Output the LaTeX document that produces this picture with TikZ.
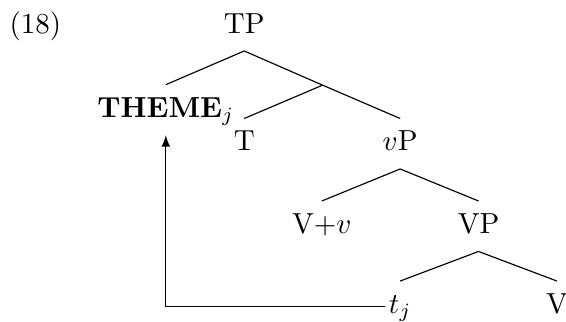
\documentclass[tikz,border=0pt]{standalone}
\usetikzlibrary{positioning}
\begin{document}
\begin{tikzpicture}[node distance=1cm, every node/.style={inner xsep=1pt, inner ysep=3pt, text height=8pt, text depth=3pt}, >=latex]
\useasboundingbox (0,0) rectangle (6.86,-3.90);
\node (TP) [anchor=base] at (2.96,-0.40) {TP};
\node (ex) [left of=TP, node distance=2.53cm] {(18)};
\node (theme) [below of=TP, xshift=-0.95cm, yshift=-0.02cm] {\textbf{THEME}$_j$};
\coordinate [below of=TP, node distance=0.72cm, xshift=0.95cm] (Tbar);
\node (T) [below of=TP, node distance=1.43cm] {T};
\node (vP) [right of=T, node distance=1.89cm] {$v$P};
\node (Vv) [below of=vP, xshift=-0.95cm] {V+$v$};
\node (VP) [below of=vP, xshift=0.95cm] {VP};
\node (tj) [below of=VP, xshift=-0.95cm, yshift=0.03cm] {$t_j$};
\node (V) [below of=VP, xshift=0.95cm, yshift=0.03cm] {V};
\draw (TP.south) -- (theme.north);
\draw (TP.south) -- (Tbar) -- (vP.north);
\draw (Tbar) -- (T.north);
\draw (vP.south) -- (Vv.north);
\draw (vP.south) -- (VP.north);
\draw (VP.south) -- (tj.north);
\draw (VP.south) -- (V.north);
\draw[->] (tj.west) -| (theme.south);
\end{tikzpicture}
\end{document}
